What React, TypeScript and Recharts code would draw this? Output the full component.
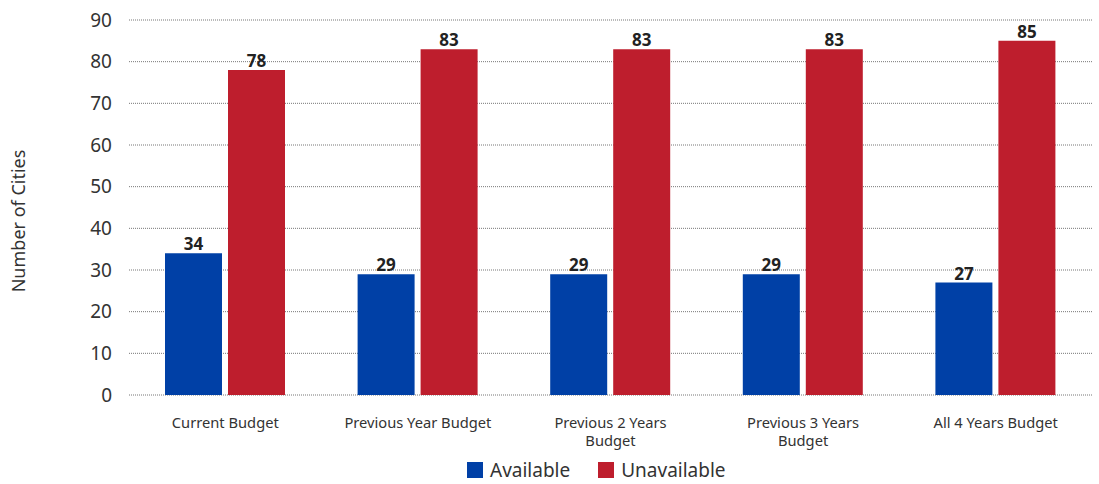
import React from 'react';
import { BarChart, Bar, XAxis, YAxis, CartesianGrid, Legend, LabelList, Text } from 'recharts';

const categories = ['Current Budget', 'Previous Year Budget', 'Previous 2 Years Budget', 'Previous 3 Years Budget', 'All 4 Years Budget'];
const available = [34, 29, 29, 29, 27];
const unavailable = [78, 83, 83, 83, 85];
const yTicks = [0, 10, 20, 30, 40, 50, 60, 70, 80, 90];
const seriesNames = ['Available', 'Unavailable'];
const seriesColors = ['#0040A6', '#BE1E2D'];

const data = categories.map((c, i) => ({ name: c, available: available[i], unavailable: unavailable[i] }));

const FONT = '"Noto Sans", sans-serif';

const XTick = (props: any) => {
  const { x, y, payload } = props;
  return (
    <Text x={x} y={y} width={155} textAnchor="middle" verticalAnchor="start" lineHeight={18}
      fontSize={14.7} fill="#333" fontFamily={FONT}>
      {payload.value}
    </Text>
  );
};

const YLabel = () => (
  <text x={18} y={221} transform="rotate(-90 18 221)" textAnchor="middle" dominantBaseline="central"
    fontSize={18} fill="#333" fontFamily={FONT}>Number of Cities</text>
);

const LegendContent = () => (
  <div style={{ display: 'flex', alignItems: 'center', fontFamily: FONT, fontSize: 19, color: '#333' }}>
    {seriesNames.map((n, i) => (
      <div key={n} style={{ display: 'flex', alignItems: 'center', marginRight: 28 }}>
        <div style={{ width: 16, height: 16, background: seriesColors[i], marginRight: 7 }} />
        <span>{n}</span>
      </div>
    ))}
  </div>
);

export default function App() {
  return (
    <div style={{ position: 'absolute', left: 0, top: 0 }}>
      <BarChart width={1099} height={484} data={data} barSize={57} barGap={6}
        margin={{ top: 20, right: 7, bottom: 5, left: 0 }}>
        <CartesianGrid vertical={false} stroke="#777" strokeDasharray="1 1" />
        <XAxis dataKey="name" tick={<XTick />} axisLine={false} tickLine={false} height={62} tickMargin={17} interval={0} />
        <YAxis width={129} domain={[0, 90]} ticks={yTicks} axisLine={false} tickLine={false} tickMargin={11}
          tick={{ fontSize: 19, fill: '#333', fontFamily: FONT }} label={<YLabel />} />
        <Legend verticalAlign="bottom" height={22} content={<LegendContent />}
          wrapperStyle={{ left: 467, width: 320 }} />
        <Bar dataKey="available" name={seriesNames[0]} fill={seriesColors[0]} isAnimationActive={false}>
          <LabelList dataKey="available" position="top" offset={3} fill="#222" fontSize={17} fontWeight={700} fontFamily={FONT} />
        </Bar>
        <Bar dataKey="unavailable" name={seriesNames[1]} fill={seriesColors[1]} isAnimationActive={false}>
          <LabelList dataKey="unavailable" position="top" offset={3} fill="#222" fontSize={17} fontWeight={700} fontFamily={FONT} />
        </Bar>
      </BarChart>
    </div>
  );
}
